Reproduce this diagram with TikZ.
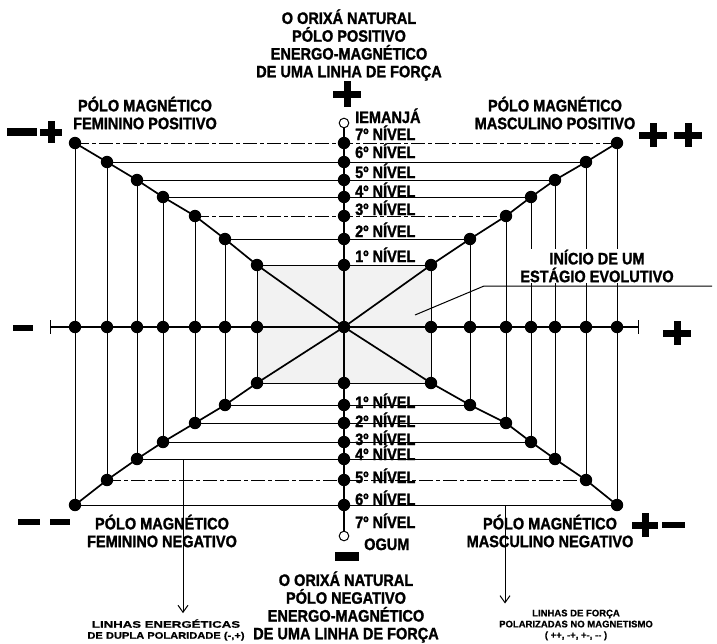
\documentclass[tikz,border=0pt]{standalone}
\usepackage{fontspec}
\setmainfont{Liberation Sans}
\newfontfamily\labelfont[FakeStretch=0.88,FakeBold=1.4]{Liberation Sans Bold}
\newfontfamily\smallsans[FakeBold=0.8]{Liberation Sans Bold}
\usepackage{tikz}
\usetikzlibrary{arrows.meta}

\tikzset{
  gridline/.style={line width=1pt},
  brokenline/.style={line width=1pt, dash pattern=on 14pt off 3pt on 4pt off 3pt},
  diagline/.style={line width=1.7pt},
  polesign/.style={line width=7pt},
  lbl/.style={font=\labelfont\fontsize{16.5}{17.8}\selectfont, inner sep=0pt, align=center},
  nivel/.style={font=\labelfont\fontsize{16.5}{17.8}\selectfont, inner sep=0pt, anchor=base west},
  smalllbl/.style={font=\smallsans\fontsize{9.5}{11}\selectfont, inner sep=0pt, align=center},
  >={Straight Barb[length=7pt,width=10pt]},
}

\begin{document}
\begin{tikzpicture}[x=1pt, y=-1pt, line join=round]
  \useasboundingbox (0,0) rectangle (717,643);

  % levels: index / left x / right x / top y / bottom y
  \foreach \i/\xl/\xr/\yt/\yb in {1/257/431/265/383, 2/225/470/239/405, 3/195/506/216/423,
      4/163/531/197/442, 5/137/555/180/459, 6/107/586/162/480, 7/75/617/143/505} {
    \coordinate (tl\i) at (\xl,\yt); \coordinate (tr\i) at (\xr,\yt);
    \coordinate (bl\i) at (\xl,\yb); \coordinate (br\i) at (\xr,\yb);
    \coordinate (ct\i) at (344,\yt); \coordinate (cb\i) at (344,\yb);
    \coordinate (al\i) at (\xl,327); \coordinate (ar\i) at (\xr,327);
  }
  \coordinate (ctr) at (344,327);
  \coordinate (axl) at (50,327); \coordinate (axr) at (638,327);
  \coordinate (otop) at (344,123); \coordinate (obot) at (344,536);

  % start of the evolutive stage
  \fill[black!5] (tl1) rectangle (br1);

  % the rectangles
  \foreach \i in {1,...,7} \draw[gridline] (tl\i) -- (bl\i) (tr\i) -- (br\i);
  \foreach \i in {1,2,4,5,6} \draw[gridline] (tl\i) -- (tr\i);
  \draw[brokenline] (tl3) -- (tr3) (tl7) -- (tr7);
  \foreach \i in {1,2,3,4,5,7} \draw[gridline] (bl\i) -- (br\i);
  \draw[brokenline] (bl6) -- (br6);

  % axis and column
  \draw[gridline, line width=1.3pt] (axl) -- (axr);
  \draw[gridline] (axl) ++(0,-7) -- ++(0,14) (axr) ++(0,-7) -- ++(0,14);
  \draw[gridline, line width=1.3pt] (otop) -- (obot);

  % diagonals
  \draw[diagline] (ctr) \foreach \i in {1,...,7} { -- (tl\i) };
  \draw[diagline] (ctr) \foreach \i in {1,...,7} { -- (tr\i) };
  \draw[diagline] (ctr) \foreach \i in {1,...,7} { -- (bl\i) };
  \draw[diagline] (ctr) \foreach \i in {1,...,7} { -- (br\i) };

  % dots
  \foreach \i in {1,...,7} {
    \foreach \p in {tl,tr,bl,br,ct,cb,al,ar} \fill (\p\i) circle (6.2pt);
  }
  \fill (ctr) circle (6.2pt);
  \draw[line width=1pt, fill=white] (otop) circle (4.8pt) (obot) circle (4.8pt);

  % signs
  \draw[polesign] (347,94) ++(-14,0) -- ++(28,0) (347,94) ++(0,-13) -- ++(0,26);
  \draw[polesign, line width=9pt] (335,556) -- (359,556);
  \draw[polesign, line width=6pt] (13,328) -- (33,328);
  \draw[polesign] (677,333) ++(-14,0) -- ++(28,0) (677,333) ++(0,-12) -- ++(0,24);
  \draw[polesign, line width=8pt] (7,132) -- (37,132);
  \draw[polesign] (51,132) ++(-11,0) -- ++(22,0) (51,132) ++(0,-11) -- ++(0,22);
  \foreach \sx in {653,688}
    \draw[polesign] (\sx,135) ++(-14,0) -- ++(28,0) (\sx,135) ++(0,-12) -- ++(0,24);
  \draw[polesign, line width=6pt] (18,522) -- (40,522) (50,522) -- (70,522);
  \draw[polesign] (645,525) ++(-13,0) -- ++(26,0) (645,525) ++(0,-12) -- ++(0,24);
  \draw[polesign, line width=6pt] (662,525) -- (685,525);

  % texts
  \node[lbl] (orixapos) at (349,45) {O ORIXÁ NATURAL\\PÓLO POSITIVO\\ENERGO-MAGNÉTICO\\DE UMA LINHA DE FORÇA};
  \node[lbl] (orixaneg) at (346,607) {O ORIXÁ NATURAL\\PÓLO NEGATIVO\\ENERGO-MAGNÉTICO\\DE UMA LINHA DE FORÇA};
  \node[lbl] (fempos) at (145,113) {PÓLO MAGNÉTICO\\FEMININO POSITIVO};
  \node[lbl] (maspos) at (555,113) {PÓLO MAGNÉTICO\\MASCULINO POSITIVO};
  \node[lbl] (femneg) at (162,531) {PÓLO MAGNÉTICO\\FEMININO NEGATIVO};
  \node[lbl] (masneg) at (550,531) {PÓLO MAGNÉTICO\\MASCULINO NEGATIVO};
  \node[lbl, fill=white, inner sep=1pt] (inicio) at (597,266) {INÍCIO DE UM\\ESTÁGIO EVOLUTIVO};

  \node[nivel] (iemanja) at (355,123) {IEMANJÁ};
  \foreach \n/\yy in {7/140, 6/158, 5/178, 4/197, 3/215, 2/237, 1/262}
    \node[nivel] (nt\n) at (355,\yy) {\n º NÍVEL};
  \foreach \n/\yy in {1/408, 2/427, 3/445, 4/460, 5/483, 6/505, 7/528}
    \node[nivel] (nb\n) at (355,\yy) {\n º NÍVEL};
  \node[nivel] (ogum) at (364,550) {OGUM};

  \node[smalllbl] (duplalbl) at (166,630)
    {\scalebox{1.39}[1]{LINHAS ENERGÉTICAS}\\{\addfontfeatures{FakeStretch=1.17}DE DUPLA POLARIDADE (-,+)}};
  \node[smalllbl] (forcalbl) at (576,625)
    {LINHAS DE FORÇA\\POLARIZADAS NO MAGNETISMO\\( ++, -+, +-, -- )};

  % leader and arrows
  \coordinate (leadin) at (415,315); \coordinate (leadbend) at (484,286);
  \coordinate (leadend) at (712,286);
  \draw[gridline] (leadin) -- (leadbend) -- (leadend);
  \coordinate (arrL) at (183,459); \coordinate (arrR) at (505,505);
  \draw[gridline, ->, shorten >=6pt] (arrL) -- (arrL |- duplalbl.north);
  \draw[gridline, ->, shorten >=6pt] (arrR) -- (arrR |- forcalbl.north);
\end{tikzpicture}
\end{document}
